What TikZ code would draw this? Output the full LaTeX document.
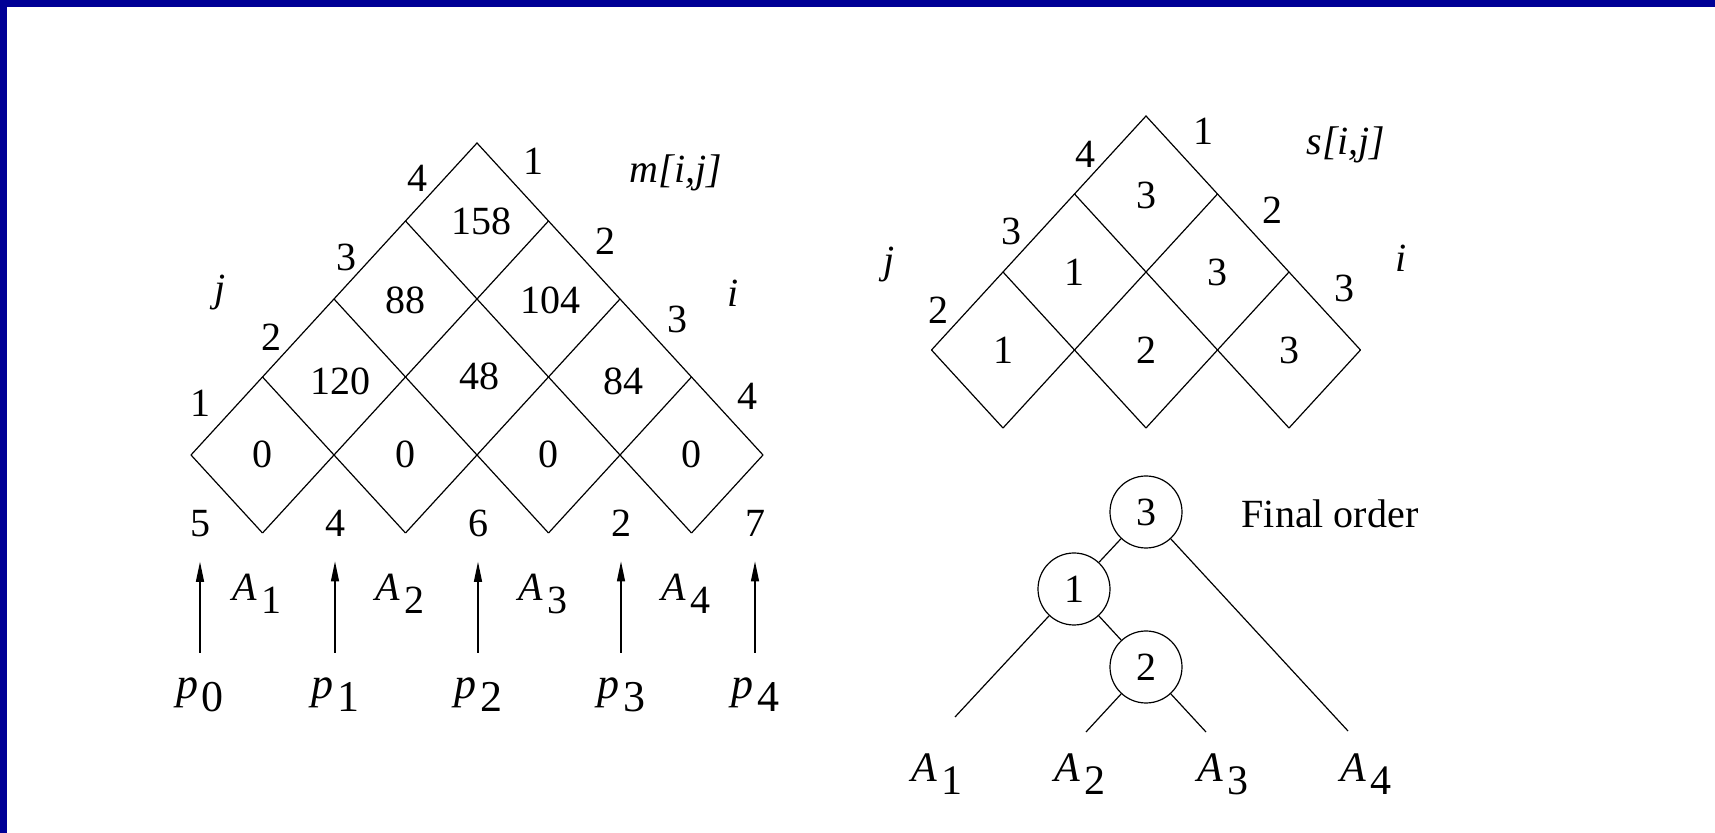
\documentclass[tikz,border=0pt]{standalone}
\usepackage{fontspec}
\setmainfont{Liberation Serif}
\usepackage{tikz}
\usetikzlibrary{arrows.meta,positioning}
\definecolor{slideblue}{RGB}{0,0,150}
\newcommand{\numsize}{\fontsize{20}{24}\selectfont}
\newcommand{\idx}[2]{\textit{#1}\kern2pt\raisebox{-6.5pt}{#2}}
\tikzset{
    gridline/.style={draw=black,line width=0.6pt},
    cellval/.style={inner sep=0pt,font=\numsize},
    sidelab/.style={inner sep=0pt,font=\numsize},
    axislab/.style={inner sep=0pt,font=\numsize\itshape},
    leftA/.style={inner sep=0pt,anchor=base,font=\numsize},
    plab/.style={inner sep=0pt,anchor=base,font=\fontsize{22}{24}\selectfont},
    treeA/.style={inner sep=0pt,anchor=base,font=\fontsize{21}{24}\selectfont},
    treenode/.style={draw,circle,minimum size=36pt,inner sep=0pt,
      line width=0.6pt,font=\numsize},
    treeedge/.style={draw=black,line width=0.6pt},
    dimarrow/.style={-{Triangle[length=10pt,width=4pt]},line width=0.65pt,
      shorten <=12.5pt,shorten >=12.25pt}
}

\begin{document}
\begin{tikzpicture}[x=0.5pt,y=-0.5pt,font=\numsize]
  \useasboundingbox (0,0) rectangle (1715,833);
  \fill[slideblue] (0,0) rectangle (1715,7);
  \fill[slideblue] (0,0) rectangle (7,833);

  % m[i,j] table
  \foreach \k in {0,...,3}{
    \draw[gridline] (262.5+143*\k,533) -- ++({71.5*(4-\k)},{-78*(4-\k)});
    \draw[gridline] (262.5+143*\k,533) -- ++({-71.5*(\k+1)},{-78*(\k+1)});
  }
  \draw[gridline] (191,455) -- (477,143) -- (763,455);
  \node[cellval] (m14) at (481,221) {158};
  \node[cellval] (m13) at (405,300) {88};
  \node[cellval] (m24) at (550,300) {104};
  \node[cellval] (m12) at (340,381) {120};
  \node[cellval] (m23) at (479,376) {48};
  \node[cellval] (m34) at (623,381) {84};
  \foreach \x [count=\n] in {262.5,405.5,548.5,691.5}
    \node[cellval] (m\n\n) at (\x,454) {0};
  \foreach \t/\x/\y in {4/417/178,3/346/257,2/271/337,1/200/403}
    \node[sidelab] (mj\t) at (\x,\y) {\t};
  \foreach \t/\x/\y in {1/533/161,2/605/241,3/677/319,4/747/396}
    \node[sidelab] (mi\t) at (\x,\y) {\t};
  \node[axislab] (mj) at (220,293) {j};
  \node[axislab] (mi) at (733,293) {i};
  \node[axislab] (mname) at (676,173) {m[i,j]};

  % dimensions
  \foreach \d/\x [count=\n from 0] in {5/200,4/335,6/478,2/621,7/755}{
    \node[cellval,anchor=base] (d\n) at (\x,536.5) {\d};
    \node[plab] (p\n) at (\x,699) {\idx{p}{\n}};
    \draw[dimarrow] (p\n.north) -- (d\n.south);
  }
  \foreach \x [count=\n] in {257,400,543,686}
    \node[leftA] (A\n) at (\x,601) {\idx{A}{\n}};

  % s[i,j] table
  \foreach \k in {0,...,2}{
    \draw[gridline] (1003+143*\k,428) -- ++({71.5*(3-\k)},{-78*(3-\k)});
    \draw[gridline] (1003+143*\k,428) -- ++({-71.5*(\k+1)},{-78*(\k+1)});
  }
  \draw[gridline] (931.5,350) -- (1146,116) -- (1360.5,350);
  \node[cellval] (s14) at (1146,195) {3};
  \node[cellval] (s13) at (1074,272) {1};
  \node[cellval] (s24) at (1217,272) {3};
  \node[cellval] (s12) at (1003,350) {1};
  \node[cellval] (s23) at (1146,350) {2};
  \node[cellval] (s34) at (1289,350) {3};
  \foreach \t/\x/\y in {4/1085/154,3/1011/231,2/938/310}
    \node[sidelab] (sj\t) at (\x,\y) {\t};
  \foreach \t/\x/\y in {1/1203/131,2/1272/210,3/1344/288}
    \node[sidelab] (si\t) at (\x,\y) {\t};
  \node[axislab] (sj) at (889,265) {j};
  \node[axislab] (si) at (1401,258) {i};
  \node[axislab] (sname) at (1346,145) {s[i,j]};

  % final order tree
  \node[treenode] (n3) at (1146,512) {3};
  \node[treenode] (n1) at (1074,589) {1};
  \node[treenode] (n2) at (1146,667) {2};
  \node[inner sep=0pt] (final) at (1330,514) {Final order};
  \coordinate (c1) at (955,717);
  \coordinate (c2) at (1086,732);
  \coordinate (c3) at (1206,732);
  \coordinate (c4) at (1348,731);
  \draw[treeedge] (n3) -- (n1);
  \draw[treeedge] (n1) -- (n2);
  \draw[treeedge] (n1) -- (c1);
  \draw[treeedge] (n2) -- (c2);
  \draw[treeedge] (n2) -- (c3);
  \draw[treeedge] (n3) -- (c4);
  \foreach \x [count=\n] in {937,1080,1223,1366}
    \node[treeA] (T\n) at (\x,782) {\idx{A}{\n}};
\end{tikzpicture}
\end{document}
